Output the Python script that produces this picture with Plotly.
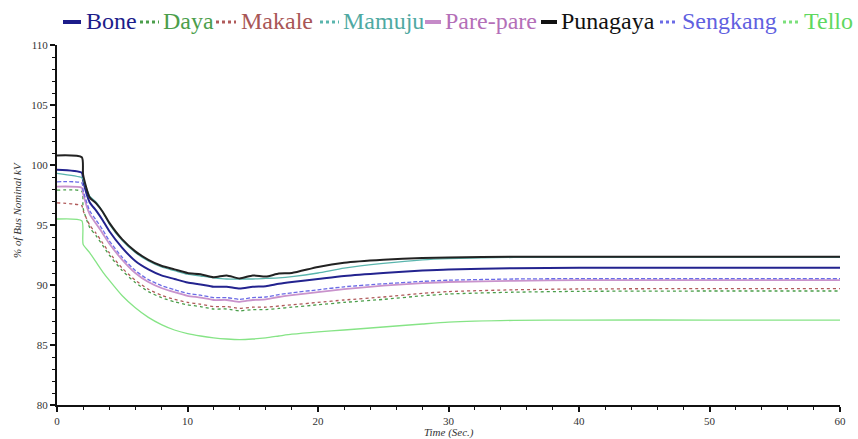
import plotly.graph_objects as go

# ---- data ----
time_s = [0, 1.9, 2.0, 2.5, 3, 3.5, 4, 5, 6, 7, 8, 9, 10, 11, 12, 13, 14, 15, 16, 17, 18,
          20, 22, 25, 28, 30, 35, 40, 50, 60]

bone = [99.6, 99.35, 98.7, 96.9, 96.2, 95.4, 94.5, 93.1, 92.0, 91.3, 90.8, 90.5, 90.2, 90.05,
        89.85, 89.85, 89.7, 89.85, 89.9, 90.1, 90.25, 90.5, 90.75, 91.0, 91.2, 91.3, 91.4, 91.44, 91.44, 91.44]
daya = [97.9, 97.8, 96.4, 94.8, 94.1, 93.3, 92.5, 91.2, 90.2, 89.45, 88.95, 88.6, 88.35, 88.2,
        88.0, 88.0, 87.85, 87.95, 87.95, 88.05, 88.15, 88.35, 88.55, 88.8, 89.1, 89.25, 89.4, 89.47, 89.5, 89.5]
makale = [96.85, 96.6, 96.2, 95.0, 94.3, 93.5, 92.7, 91.4, 90.4, 89.65, 89.15, 88.8, 88.55, 88.4,
          88.2, 88.2, 88.05, 88.15, 88.15, 88.25, 88.35, 88.55, 88.75, 89.0, 89.3, 89.45, 89.6, 89.67, 89.7, 89.7]
mamuju = [99.3, 98.95, 98.8, 97.4, 96.9, 96.1, 95.1, 93.7, 92.7, 92.0, 91.5, 91.2, 90.9, 90.75,
          90.6, 90.5, 90.5, 90.5, 90.55, 90.6, 90.7, 91.0, 91.4, 91.8, 92.1, 92.2, 92.3, 92.3, 92.3, 92.3]
pare_pare = [98.2, 98.1, 97.6, 95.9, 95.1, 94.3, 93.45, 92.1, 91.0, 90.25, 89.75, 89.4, 89.1, 88.95,
             88.75, 88.75, 88.6, 88.75, 88.8, 89.0, 89.15, 89.4, 89.65, 89.95, 90.15, 90.25, 90.35, 90.4, 90.4, 90.4]
punagaya = [100.8, 100.65, 99.2, 97.3, 96.8, 96.1, 95.2, 93.8, 92.8, 92.1, 91.6, 91.3, 91.0, 90.9,
            90.65, 90.8, 90.55, 90.8, 90.7, 90.95, 91.0, 91.5, 91.85, 92.1, 92.25, 92.3, 92.35, 92.35, 92.35, 92.35]
sengkang = [98.6, 98.5, 97.9, 96.2, 95.4, 94.6, 93.7, 92.3, 91.2, 90.45, 89.95, 89.6, 89.3, 89.15,
            88.95, 88.95, 88.8, 88.95, 89.0, 89.2, 89.35, 89.6, 89.85, 90.1, 90.3, 90.4, 90.5, 90.53, 90.53, 90.53]
tello = [95.5, 95.35, 93.4, 92.7, 91.9, 91.1, 90.4, 89.1, 88.1, 87.3, 86.7, 86.25, 85.95, 85.75,
         85.6, 85.5, 85.45, 85.5, 85.6, 85.75, 85.9, 86.1, 86.25, 86.5, 86.75, 86.9, 87.05, 87.08, 87.08, 87.08]

series_names = ["Bone", "Daya", "Makale", "Mamuju", "Pare-pare", "Punagaya", "Sengkang", "Tello"]
series_values = [bone, daya, makale, mamuju, pare_pare, punagaya, sengkang, tello]

x_ticks = [0, 10, 20, 30, 40, 50, 60]
y_ticks = [80, 85, 90, 95, 100, 105, 110]

# ---- styles ----
styles = {
    "Bone":      dict(color="#23238f", width=2.0, dash="solid"),
    "Daya":      dict(color="#4b9e4b", width=1.3, dash="dot"),
    "Makale":    dict(color="#b05a5a", width=1.3, dash="dot"),
    "Mamuju":    dict(color="#5ab5ad", width=1.3, dash="solid"),
    "Pare-pare": dict(color="#c993cc", width=1.8, dash="solid"),
    "Punagaya":  dict(color="#222222", width=2.0, dash="solid"),
    "Sengkang":  dict(color="#6b6be6", width=1.3, dash="4px,2px"),
    "Tello":     dict(color="#86e486", width=1.3, dash="solid"),
}
legend_style = {
    "Bone":      dict(color="#1c1c8a", width=4, dash="solid"),
    "Daya":      dict(color="#4b9e4b", width=3, dash="dot"),
    "Makale":    dict(color="#b05a5a", width=3, dash="dot"),
    "Mamuju":    dict(color="#5ab5ad", width=3, dash="dot"),
    "Pare-pare": dict(color="#c58ac8", width=4, dash="solid"),
    "Punagaya":  dict(color="#111111", width=4, dash="solid"),
    "Sengkang":  dict(color="#6b6be6", width=3, dash="dot"),
    "Tello":     dict(color="#7be07b", width=3, dash="dot"),
}
text_colors = {
    "Bone": "#1c1c8a", "Daya": "#4b9e4b", "Makale": "#a85656", "Mamuju": "#4fa9a2",
    "Pare-pare": "#b46fb8", "Punagaya": "#111111", "Sengkang": "#6060e0", "Tello": "#5fd85f",
}

W, H = 858, 439
ML, MR, MT, MB = 57, 18, 45, 34
PLOT_L, PLOT_B, PW, PH = ML, H - MB, W - ML - MR, H - MT - MB

def px2x(px):
    return (px - PLOT_L) / PW

def py2y(py):
    return (PLOT_B - py) / PH

fig = go.Figure()
draw_order = ["Tello", "Daya", "Makale", "Pare-pare", "Sengkang", "Bone", "Mamuju", "Punagaya"]
for name in draw_order:
    vals = series_values[series_names.index(name)]
    fig.add_trace(go.Scatter(x=time_s, y=vals, mode="lines", name=name,
                             line=dict(shape="spline", smoothing=0.6, **styles[name]),
                             showlegend=False))

# manual legend in one row above the plot
legend_layout = {
    "Bone": (63, 81, 85), "Daya": (140, 159, 162), "Makale": (216, 236, 240),
    "Mamuju": (320, 339, 342), "Pare-pare": (425, 441, 444), "Punagaya": (541, 557, 560),
    "Sengkang": (660, 677, 681), "Tello": (783, 800, 803),
}
SERIF = "Liberation Serif, Times New Roman, serif"
annotations = []
shapes = []
ly = 21
for name in series_names:
    s0, s1, tx = legend_layout[name]
    st = legend_style[name]
    shapes.append(dict(type="line", xref="paper", yref="paper",
                       x0=px2x(s0), x1=px2x(s1), y0=py2y(ly + 1), y1=py2y(ly + 1),
                       line=dict(color=st["color"], width=st["width"], dash=st["dash"])))
    annotations.append(dict(text=name, xref="paper", yref="paper", x=px2x(tx), y=py2y(ly),
                            xanchor="left", yanchor="middle", showarrow=False, borderpad=0,
                            font=dict(family=SERIF, size=24, color=text_colors[name])))

annotations.append(dict(text="<i>Time (Sec.)</i>", xref="paper", yref="paper", x=0.5, y=py2y(432),
                        xanchor="center", yanchor="middle", showarrow=False,
                        font=dict(family=SERIF, size=11, color="#333333")))
annotations.append(dict(text="<i>% of Bus Nominal kV</i>", xref="paper", yref="paper",
                        x=px2x(17), y=py2y(210), textangle=-90,
                        xanchor="center", yanchor="middle", showarrow=False,
                        font=dict(family=SERIF, size=11, color="#333333")))

axis_common = dict(showline=True, linecolor="#111111", linewidth=2, ticks="outside",
                   tickcolor="#111111", tickwidth=1.5, ticklen=5, showgrid=False, zeroline=False,
                   tickfont=dict(family=SERIF, size=11, color="#333333"))

fig.update_layout(
    width=W, height=H,
    margin=dict(l=ML, r=MR, t=MT, b=MB),
    paper_bgcolor="white", plot_bgcolor="white",
    showlegend=False,
    annotations=annotations,
    shapes=shapes,
    xaxis=dict(range=[0, 60], tickvals=x_ticks,
               minor=dict(dtick=2, ticks="outside", ticklen=3, tickcolor="#111111", tickwidth=1.2),
               **axis_common),
    yaxis=dict(range=[80, 110], tickvals=y_ticks,
               minor=dict(dtick=1, ticks="outside", ticklen=3, tickcolor="#111111", tickwidth=1.2),
               **axis_common),
)

# remove the default 8 px page margin so the figure fills the window exactly
fig.write_html("out.html", config={"displayModeBar": False},
               post_script="document.body.style.margin='0px';")
